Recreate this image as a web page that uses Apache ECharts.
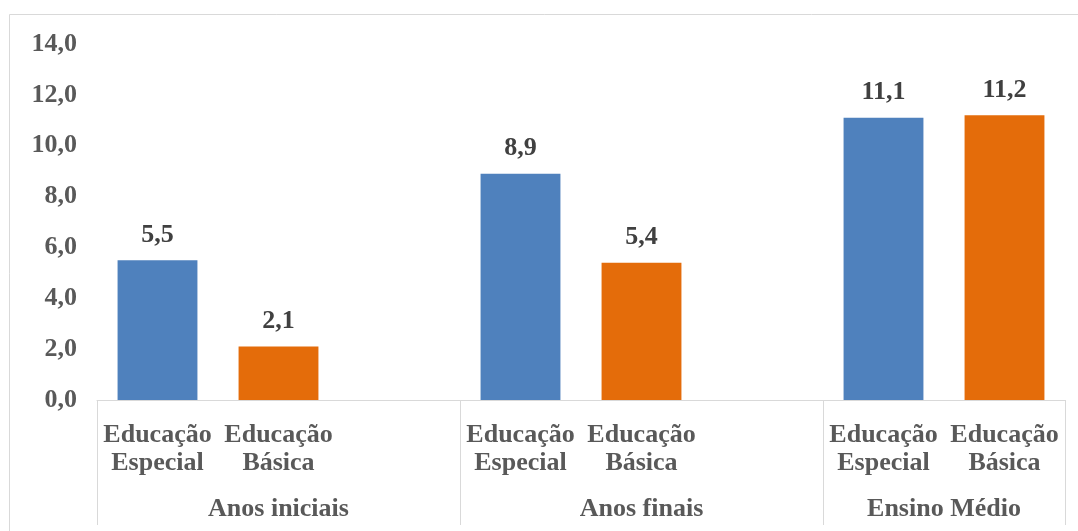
<!DOCTYPE html>
<html>
<head>
<meta charset="utf-8">
<script src="https://cdn.jsdelivr.net/npm/echarts@6/dist/echarts.min.js"></script>
<style>
  html, body { margin: 0; padding: 0; background: #ffffff; }
  #chart { width: 1078px; height: 531px; }
</style>
</head>
<body>
<div id="chart"></div>
<script>
// Stages of schooling and the two series compared in each
const groups = ['Anos iniciais', 'Anos finais', 'Ensino Médio'];
const subCategories = ['Educação\nEspecial', 'Educação\nBásica'];
const seriesNames = ['Educação Especial', 'Educação Básica'];
const especial = [5.5, 8.9, 11.1];
const basica = [2.1, 5.4, 11.2];
const yTicks = [0, 2, 4, 6, 8, 10, 12, 14];

// Each stage gets two bar slots plus a spacer slot (none after the last one)
const slotCounts = groups.map((g, i) => i < groups.length - 1 ? 3 : 2);
const slots = [];
const especialSlots = [];
const basicaSlots = [];
const groupCenters = {};
let start = 0;
groups.forEach((g, gi) => {
  for (let k = 0; k < slotCounts[gi]; k++) {
    const sub = subCategories[k];
    slots.push(sub !== undefined ? sub : '');
    especialSlots.push(k === 0 ? especial[gi] : null);
    basicaSlots.push(k === 1 ? basica[gi] : null);
  }
  groupCenters[start + slotCounts[gi] / 2] = g;
  start += slotCounts[gi];
});
const groupStarts = [];
{ let s = 0; slotCounts.forEach(c => { groupStarts.push(s); s += c; }); }

const FONT = "'Liberation Serif', 'Times New Roman', serif";
const fmt = v => v.toFixed(1).replace('.', ',');

const labelStyle = {
  show: true,
  position: 'top',
  distance: 12,
  fontFamily: FONT,
  fontWeight: 'bold',
  fontSize: 26,
  color: '#404040',
  formatter: p => fmt(p.value)
};

const chart = echarts.init(document.getElementById('chart'), null, { renderer: 'canvas' });
chart.setOption({
  animation: false,
  backgroundColor: '#ffffff',
  graphic: [{
    type: 'rect',
    silent: true,
    shape: { x: 9.5, y: 14.5, width: 1200, height: 700 },
    style: { fill: 'none', stroke: '#d9d9d9', lineWidth: 1 }
  }],
  grid: { left: 97, right: 13, top: 44, bottom: 131, containLabel: false },
  xAxis: [{
    type: 'category',
    data: slots,
    boundaryGap: true,
    axisLine: { show: true, lineStyle: { color: '#d9d9d9', width: 1 } },
    axisTick: {
      show: true,
      length: 125,
      interval: (index) => groupStarts.indexOf(index) >= 0,
      lineStyle: { color: '#d9d9d9', width: 1 }
    },
    axisLabel: {
      interval: 0,
      margin: 21,
      fontFamily: FONT,
      fontWeight: 'bold',
      fontSize: 26,
      lineHeight: 28,
      color: '#595959'
    },
    splitLine: { show: false }
  }, {
    type: 'value',
    position: 'bottom',
    min: 0,
    max: slots.length,
    interval: 0.5,
    axisLine: { show: false },
    axisTick: { show: false },
    splitLine: { show: false },
    axisLabel: {
      margin: 96,
      fontFamily: FONT,
      fontWeight: 'bold',
      fontSize: 26,
      color: '#595959',
      showMinLabel: true,
      showMaxLabel: true,
      formatter: v => groupCenters[v] || ''
    }
  }],
  yAxis: {
    type: 'value',
    min: yTicks[0],
    max: yTicks[yTicks.length - 1],
    interval: yTicks[1] - yTicks[0],
    axisLine: { show: false },
    axisTick: { show: false },
    splitLine: { show: false },
    axisLabel: {
      margin: 20,
      fontFamily: FONT,
      fontWeight: 'bold',
      fontSize: 26,
      color: '#595959',
      formatter: v => fmt(v)
    }
  },
  series: [{
    name: seriesNames[0],
    type: 'bar',
    xAxisIndex: 0,
    data: especialSlots,
    barWidth: '66%',
    barGap: '-100%',
    itemStyle: { color: '#4f81bd' },
    label: labelStyle
  }, {
    name: seriesNames[1],
    type: 'bar',
    xAxisIndex: 0,
    data: basicaSlots,
    barWidth: '66%',
    barGap: '-100%',
    itemStyle: { color: '#e46c0a' },
    label: labelStyle
  }]
});
</script>
</body>
</html>
